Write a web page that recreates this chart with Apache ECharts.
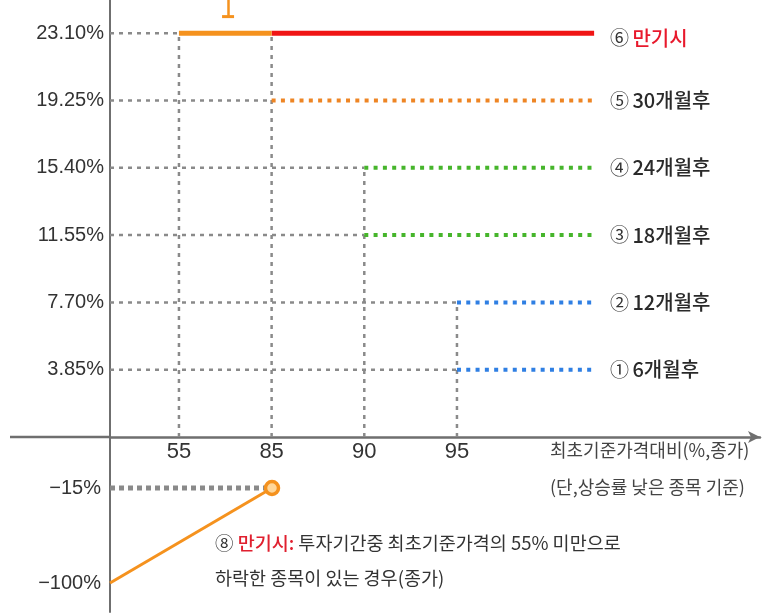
<!DOCTYPE html>
<html><head><meta charset="utf-8">
<script src="https://cdn.jsdelivr.net/npm/echarts@6/dist/echarts.min.js"></script>
<style>html,body{margin:0;padding:0;background:#fff}#c{width:762px;height:615px}</style>
</head><body><div id="c"></div>
<script>
// ---------------- data ----------------
const xCats = ['55', '85', '90', '95'];                       // x tick labels (최초기준가격대비 %)
const yLevels = [3.85, 7.70, 11.55, 15.40, 19.25, 23.10];     // coupon levels (%)
const periodMarks = ['①', '②', '③', '④', '⑤', '⑥'];
const periodNames = ['6개월후', '12개월후', '18개월후', '24개월후', '30개월후', '만기시'];
const periodBarriers = ['95', '95', '90', '90', '85', '85'];  // redemption barrier per period
const knockInBarrier = '55';                                   // maturity, no knock-in: pays from 55
const lossPrices = [0, 85];                                    // lower payoff: price (%)
const lossReturns = [-100, -15];                               // lower payoff: return (%)
const xAxisNameLines = ['최초기준가격대비(%,종가)', '(단,상승률 낮은 종목 기준)'];
const noteMark = '⑧';
const noteRed = '만기시:';
const noteLine1 = ' 투자기간중 최초기준가격의 55% 미만으로';
const noteLine2 = '하락한 종목이 있는 경우(종가)';

// ---------------- layout / style ----------------
const X_MIN = -0.744, X_MAX = 6.27, LINE_END = 4.48;
const Y_MAX = 25;
const LOW_MIN = -125.9, LOW_MAX = 30.6;
const LATIN = '"Liberation Sans",Arial,sans-serif';
const KR = '"Noto Sans CJK KR","Noto Sans",sans-serif';
const periodColors = ['#2f7fe3', '#2f7fe3', '#46b52b', '#46b52b', '#ee8524', '#f01515'];
const ORANGE = '#f5921e';
const GRAY = '#8a8a8a';
const AXIS = '#6f6f6f';

const xi = c => xCats.indexOf(c);
const series = [];

// gray guide lines (horizontal)
yLevels.forEach((lv, k) => {
  const endX = k === yLevels.length - 1 ? xi(knockInBarrier) : xi(periodBarriers[k]);
  series.push({
    type: 'line', xAxisIndex: 0, yAxisIndex: 0, symbol: 'none', silent: true, z: 1,
    data: [[X_MIN, lv], [endX, lv]],
    lineStyle: { color: GRAY, width: 2.5, type: [4, 5] }
  });
});
// gray guide lines (vertical)
const vTops = {};
vTops[knockInBarrier] = yLevels[yLevels.length - 1];
periodBarriers.forEach((b, k) => { vTops[b] = Math.max(vTops[b] || 0, yLevels[k]); });
Object.keys(vTops).forEach(b => {
  series.push({
    type: 'line', xAxisIndex: 0, yAxisIndex: 0, symbol: 'none', silent: true, z: 1,
    data: [[xi(b), 0], [xi(b), vTops[b]]],
    lineStyle: { color: GRAY, width: 2.5, type: [4, 5] }
  });
});
// payoff lines per period
yLevels.forEach((lv, k) => {
  const last = k === yLevels.length - 1;
  series.push({
    type: 'line', xAxisIndex: 0, yAxisIndex: 0, symbol: 'none', z: 3,
    data: [[xi(periodBarriers[k]), lv], [LINE_END, lv]],
    lineStyle: last ? { color: periodColors[k], width: 5 }
                    : { color: periodColors[k], width: 4, type: [4, 5.3], cap: 'butt' },
    endLabel: {
      show: true, distance: 16, offset: [0, last ? 5 : 0],
      formatter: `{m|${periodMarks[k]}} {${last ? 'r' : 't'}|${periodNames[k]}}`,
      rich: {
        m: { fontFamily: KR, fontSize: 19, color: '#333' },
        t: { fontFamily: KR, fontSize: 20, color: '#2a2a2a', fontWeight: 500 },
        r: { fontFamily: KR, fontSize: 20, color: '#e8192c', fontWeight: 500 }
      }
    }
  });
});
// maturity, no knock-in: orange solid segment 55 -> 85
series.push({
  type: 'line', xAxisIndex: 0, yAxisIndex: 0, symbol: 'none', z: 4,
  data: [[xi(knockInBarrier), yLevels[5]], [xi(periodBarriers[5]), yLevels[5]]],
  lineStyle: { color: ORANGE, width: 5 },
  markLine: {
    silent: true, symbol: ['none', 'rect'], symbolSize: [12, 3], label: { show: false },
    lineStyle: { color: ORANGE, width: 2.5, type: 'solid' },
    data: [[{ coord: [0.53, Y_MAX] }, { coord: [0.53, 24.05] }]]
  }
});
// lower: loss payoff
series.push({
  type: 'line', xAxisIndex: 1, yAxisIndex: 1, symbol: 'none', silent: true, z: 1,
  data: [[lossPrices[0], lossReturns[1]], [lossPrices[1] - 3, lossReturns[1]]],
  lineStyle: { color: GRAY, width: 5, type: [5, 4] }
});
series.push({
  type: 'line', xAxisIndex: 1, yAxisIndex: 1, z: 3,
  data: lossPrices.map((p, i) => [p, lossReturns[i]]),
  lineStyle: { color: ORANGE, width: 3 },
  showSymbol: true, symbol: 'circle', symbolSize: (v, p) => p.dataIndex === lossPrices.length - 1 ? 13 : 0,
  itemStyle: { color: '#ffd79a', borderColor: ORANGE, borderWidth: 3.5 }
});

const chart = echarts.init(document.getElementById('c'), null, { renderer: 'canvas' });
const option = {
  animation: false,
  backgroundColor: '#fff',
  grid: [
    { left: 110, right: 2, top: 0, height: 437, containLabel: false, outerBoundsMode: 'none' },
    { left: 110, right: 490, top: 437, height: 175, containLabel: false, outerBoundsMode: 'none' }
  ],
  xAxis: [
    {
      type: 'value', gridIndex: 0, min: X_MIN, max: X_MAX,
      axisLine: { onZero: false, lineStyle: { color: AXIS, width: 2.5 }, symbol: ['none', 'arrow'], symbolSize: [9, 12] },
      axisTick: { show: false }, splitLine: { show: false },
      axisLabel: {
        customValues: xCats.map((c, i) => i), formatter: v => xCats[Math.round(v)],
        fontFamily: LATIN, fontSize: 22, color: '#333', margin: 4
      }
    },
    { type: 'value', gridIndex: 1, min: lossPrices[0], max: lossPrices[1], show: false }
  ],
  yAxis: [
    {
      type: 'value', gridIndex: 0, min: 0, max: Y_MAX,
      axisLine: { show: true, onZero: false, lineStyle: { color: AXIS, width: 2 } },
      axisTick: { show: false }, splitLine: { show: false },
      axisLabel: {
        customValues: yLevels, formatter: v => v.toFixed(2) + '%',
        fontFamily: LATIN, fontSize: 20, color: '#333', margin: 6
      }
    },
    {
      type: 'value', gridIndex: 1, min: LOW_MIN, max: LOW_MAX,
      axisLine: { show: true, onZero: false, lineStyle: { color: AXIS, width: 2 } },
      axisTick: { show: false }, splitLine: { show: false },
      axisLabel: {
        customValues: lossReturns, formatter: v => '\u2212' + Math.abs(v) + '%',
        fontFamily: LATIN, fontSize: 20, color: '#333', margin: 9
      }
    }
  ],
  series: series
};
chart.setOption(option);

const y0 = chart.convertToPixel({ yAxisIndex: 0 }, 0);
chart.setOption({
  graphic: [
    { type: 'line', shape: { x1: 10, y1: y0, x2: 110, y2: y0 }, style: { stroke: AXIS, lineWidth: 2.5 }, silent: true },
    { type: 'text', x: 550, y: 441, style: { text: xAxisNameLines[0], font: '18px ' + KR, fill: '#444' } },
    { type: 'text', x: 550, y: 478, style: { text: xAxisNameLines[1], font: '18px ' + KR, fill: '#444' } },
    { type: 'text', x: 215, y: 534, style: {
        text: `{n|${noteMark} }{r|${noteRed}}{n|${noteLine1}}`,
        rich: { n: { font: '18.5px ' + KR, fill: '#333' }, r: { font: '500 18.5px ' + KR, fill: '#e0202f' } }
    } },
    { type: 'text', x: 215, y: 569, style: { text: noteLine2, font: '18.5px ' + KR, fill: '#333' } }
  ]
});
</script>
</body></html>
